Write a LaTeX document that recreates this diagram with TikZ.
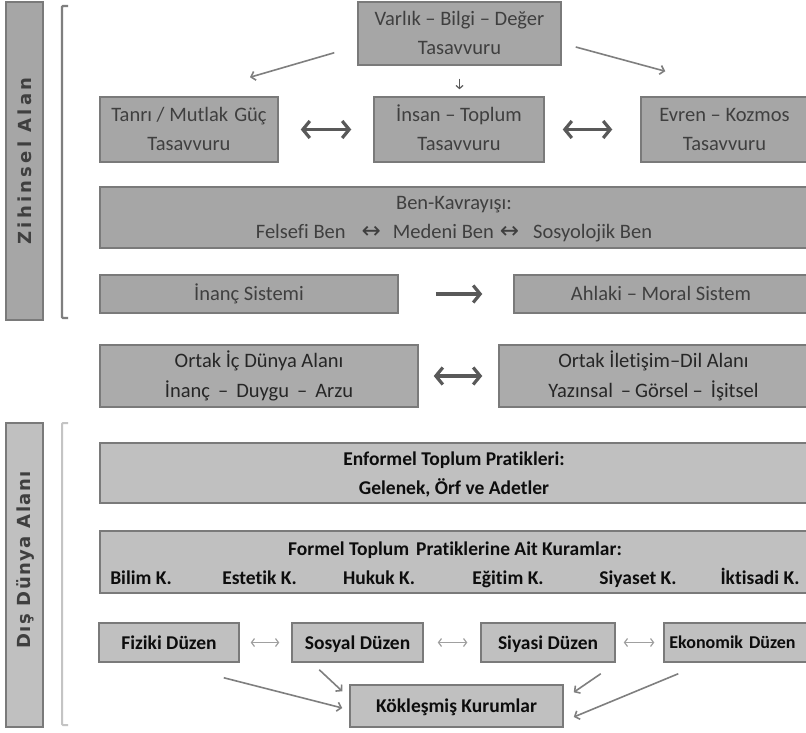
\documentclass[tikz,border=0pt]{standalone}
\usepackage{fontspec}
\setmainfont{Carlito}[Ligatures=NoCommon]
\newfontfamily\symf{DejaVu Sans}
\newfontfamily\sidefa{DejaVu Sans}[LetterSpace=18]
\newfontfamily\sidefb{DejaVu Sans}[LetterSpace=8]
\newcommand\ks{\vphantom{İgÖ}}
\newcommand\barr{{\symf\fontsize{23}{23}\selectfont ↔}}
\usetikzlibrary{arrows.meta,calc}
\definecolor{ufill}{HTML}{A6A6A6}
\definecolor{mfill}{HTML}{ABABAB}
\definecolor{lfill}{HTML}{C0C0C0}
\definecolor{bord}{HTML}{7A7A7A}
\definecolor{utext}{HTML}{3F3F3F}
\definecolor{mtext}{HTML}{262626}
\definecolor{ltext}{HTML}{0D0D0D}
\definecolor{darr}{HTML}{595959}
\definecolor{garr}{HTML}{7F7F7F}
\definecolor{larr}{HTML}{A0A0A0}
\definecolor{brk2}{HTML}{C4C4C4}
\tikzset{
  basebox/.style={rectangle, draw=bord, line width=1.5pt, inner sep=0pt, align=center},
  ubox/.style={basebox, fill=ufill, text=utext, font=\fontsize{20.5}{29}\selectfont},
  mbox/.style={basebox, fill=mfill, text=mtext, font=\fontsize{20.5}{30}\selectfont},
  lbox/.style={basebox, fill=lfill, text=ltext, font=\bfseries\fontsize{19.5}{29}\selectfont},
  ltxt/.style={inner sep=0pt, anchor=base, text=ltext, font=\bfseries\fontsize{19.5}{29}\selectfont},
  sbar/.style={rectangle, draw=bord, line width=1.5pt, inner sep=0pt},
  sidetxt/.style={rotate=90, inner sep=0pt, text=utext},
  tarrow/.style={draw=darr, line width=3.2pt, {Straight Barb[length=7pt,width=17pt]}-{Straight Barb[length=7pt,width=17pt]}},
  tarrowr/.style={draw=darr, line width=3.2pt, -{Straight Barb[length=7pt,width=17pt]}},
  garrow/.style={draw=garr, line width=1.6pt, -{Straight Barb[length=4pt,width=9pt]}},
  smallarr/.style={draw=darr, line width=1.2pt, -{Straight Barb[length=3pt,width=7pt]}},
  larrow/.style={draw=larr, line width=1.2pt, {Straight Barb[length=3pt,width=8pt]}-{Straight Barb[length=3pt,width=8pt]}},
  brk/.style={line width=2.4pt, rounded corners=1pt}
}
\begin{document}
\begin{tikzpicture}[x=1pt,y=-1pt]
\useasboundingbox (0,0) rectangle (806,733);
\clip (0,0) rectangle (806,733);
\fill[white] (0,0) rectangle (806,733);
% side bars
\node[sbar, fill=ufill, minimum width=37pt, minimum height=318pt] (zbar) at (24.5,161) {};
\node[sidetxt, font=\sidefa\bfseries\fontsize{18}{18}\selectfont] (ztxt) at (25,161) {Zihinsel Alan};
\node[sbar, fill=lfill, minimum width=37pt, minimum height=304pt] (dbar) at (24.5,575) {};
\node[sidetxt, font=\sidefb\bfseries\fontsize{18}{18}\selectfont] (dtxt) at (25,560) {Dış Dünya Alanı};
% brackets
\draw[brk, draw=garr] (68,6) -- (62,6) -- (62,318) -- (68,318);
\draw[brk, draw=brk2, line width=2pt] (68,423) -- (62,423) -- (62,725) -- (68,725);
% upper boxes
\node[ubox, minimum width=203pt, minimum height=63pt] (varlik) at (459.5,33.5) {\ks Varlık – Bilgi – Değer\\\ks Tasavvuru};
\node[ubox, minimum width=178pt, minimum height=65pt] (tanri) at (189,129.5) {\ks Tanrı / Mutlak\hspace{6pt}Güç\\\ks Tasavvuru};
\node[ubox, minimum width=170pt, minimum height=65pt] (insan) at (459,129.5) {\ks İnsan – Toplum\\\ks Tasavvuru};
\node[ubox, minimum width=167pt, minimum height=65pt] (evren) at (724.5,129.5) {\ks Evren – Kozmos\\\ks Tasavvuru};
\node[ubox, minimum width=708pt, minimum height=61pt] (ben) at (454,217.5) {\ks Ben-Kavrayışı:\\\ks Felsefi Ben\hspace{16pt}\barr\hspace{12pt}Medeni Ben\hspace{6pt}\barr\hspace{14pt}Sosyolojik Ben};
\node[ubox, minimum width=298pt, minimum height=38pt] (inanc) at (249,294) {\ks İnanç Sistemi};
\node[ubox, minimum width=294pt, minimum height=38pt] (ahlaki) at (661,294) {\ks Ahlaki – Moral Sistem};
% middle boxes
\node[mbox, minimum width=318pt, minimum height=62pt] (ortakic) at (259,376) {\ks Ortak İç Dünya Alanı\\\ks İnanç\hspace{8pt}–\hspace{8pt}Duygu\hspace{8pt}–\hspace{8pt}Arzu};
\node[mbox, minimum width=309pt, minimum height=62pt] (ortakil) at (653.5,376) {\ks Ortak İletişim–Dil Alanı\\\ks Yazınsal\hspace{8pt}–\hspace{4pt}Görsel\hspace{4pt}–\hspace{8pt}İşitsel};
% lower boxes
\node[lbox, minimum width=708pt, minimum height=60pt] (enformel) at (454,473) {\ks Enformel Toplum Pratikleri:\\\ks Gelenek, Örf ve Adetler};
\node[lbox, minimum width=708pt, minimum height=62pt] (formel) at (454,562) {};
\node[ltxt] (formelt) at (455,555) {Formel Toplum\hspace{7pt}Pratiklerine Ait Kuramlar:};
\node[ltxt] (bilim) at (141,584) {Bilim K.};
\node[ltxt] (estetik) at (259.5,584) {Estetik K.};
\node[ltxt] (hukuk) at (379,584) {Hukuk K.};
\node[ltxt] (egitim) at (508,584) {Eğitim K.};
\node[ltxt] (siyaset) at (638,584) {Siyaset K.};
\node[ltxt] (iktisadi) at (760,584) {İktisadi K.};
\node[lbox, minimum width=140pt, minimum height=39pt] (fiziki) at (169,642.5) {\ks Fiziki Düzen};
\node[lbox, minimum width=131pt, minimum height=39pt] (sosyal) at (357.5,642.5) {\ks Sosyal Düzen};
\node[lbox, minimum width=134pt, minimum height=39pt] (siyasi) at (548,642.5) {\ks Siyasi Düzen};
\node[lbox, minimum width=144pt, minimum height=39pt, font=\bfseries\fontsize{18}{22}\selectfont] (ekonomik) at (736,642.5) {\ks\hspace{-3pt}Ekonomik\hspace{6pt}Düzen\hspace{4pt}};
\node[lbox, minimum width=213pt, minimum height=42pt] (kok) at (456.5,706) {\ks Kökleşmiş Kurumlar};
% thick arrows
\draw[tarrow, shorten <=22pt, shorten >=22pt] (tanri) -- (insan);
\draw[tarrow, shorten <=18pt, shorten >=28pt] (insan) -- (evren);
\draw[tarrowr, shorten <=37pt, shorten >=31pt] (inanc) -- (ahlaki);
\draw[tarrow, shorten <=15pt, shorten >=16pt] (ortakic) -- (ortakil);
% small arrow
\draw[smallarr, shorten <=13pt, shorten >=7pt] (varlik.south) -- (varlik.south |- insan.north);
% diagonal arrows
\coordinate (vt1) at ($(varlik.south west)+(-23,-13)$);
\coordinate (vt2) at ($(tanri.north)+(61,-19)$);
\coordinate (ve1) at ($(varlik.east)+(14,13.5)$);
\coordinate (ve2) at ($(evren.north west)+(25,-25)$);
\draw[garrow] (vt1) -- (vt2);
\draw[garrow] (ve1) -- (ve2);
% duzen arrows
\draw[larrow, shorten <=11pt, shorten >=12pt] (fiziki) -- (sosyal);
\draw[larrow, shorten <=14pt, shorten >=13pt] (sosyal) -- (siyasi);
\draw[larrow, shorten <=8pt, shorten >=9pt] (siyasi) -- (ekonomik);
% to kok
\coordinate (fk1) at ($(fiziki.south east)+(-16,15)$);
\coordinate (fk2) at ($(kok.west)+(-7,2)$);
\coordinate (sk1) at ($(sosyal.south west)+(28,7)$);
\coordinate (sk2) at ($(kok.north west)+(-7,7)$);
\coordinate (yk1) at ($(siyasi.south east)+(-15,11)$);
\coordinate (yk2) at ($(kok.north east)+(10,8)$);
\coordinate (ek1) at ($(ekonomik.south west)+(15,11)$);
\coordinate (ek2) at ($(kok.east)+(10,11)$);
\draw[garrow] (fk1) -- (fk2);
\draw[garrow] (sk1) -- (sk2);
\draw[garrow] (yk1) -- (yk2);
\draw[garrow] (ek1) -- (ek2);
\end{tikzpicture}
\end{document}
